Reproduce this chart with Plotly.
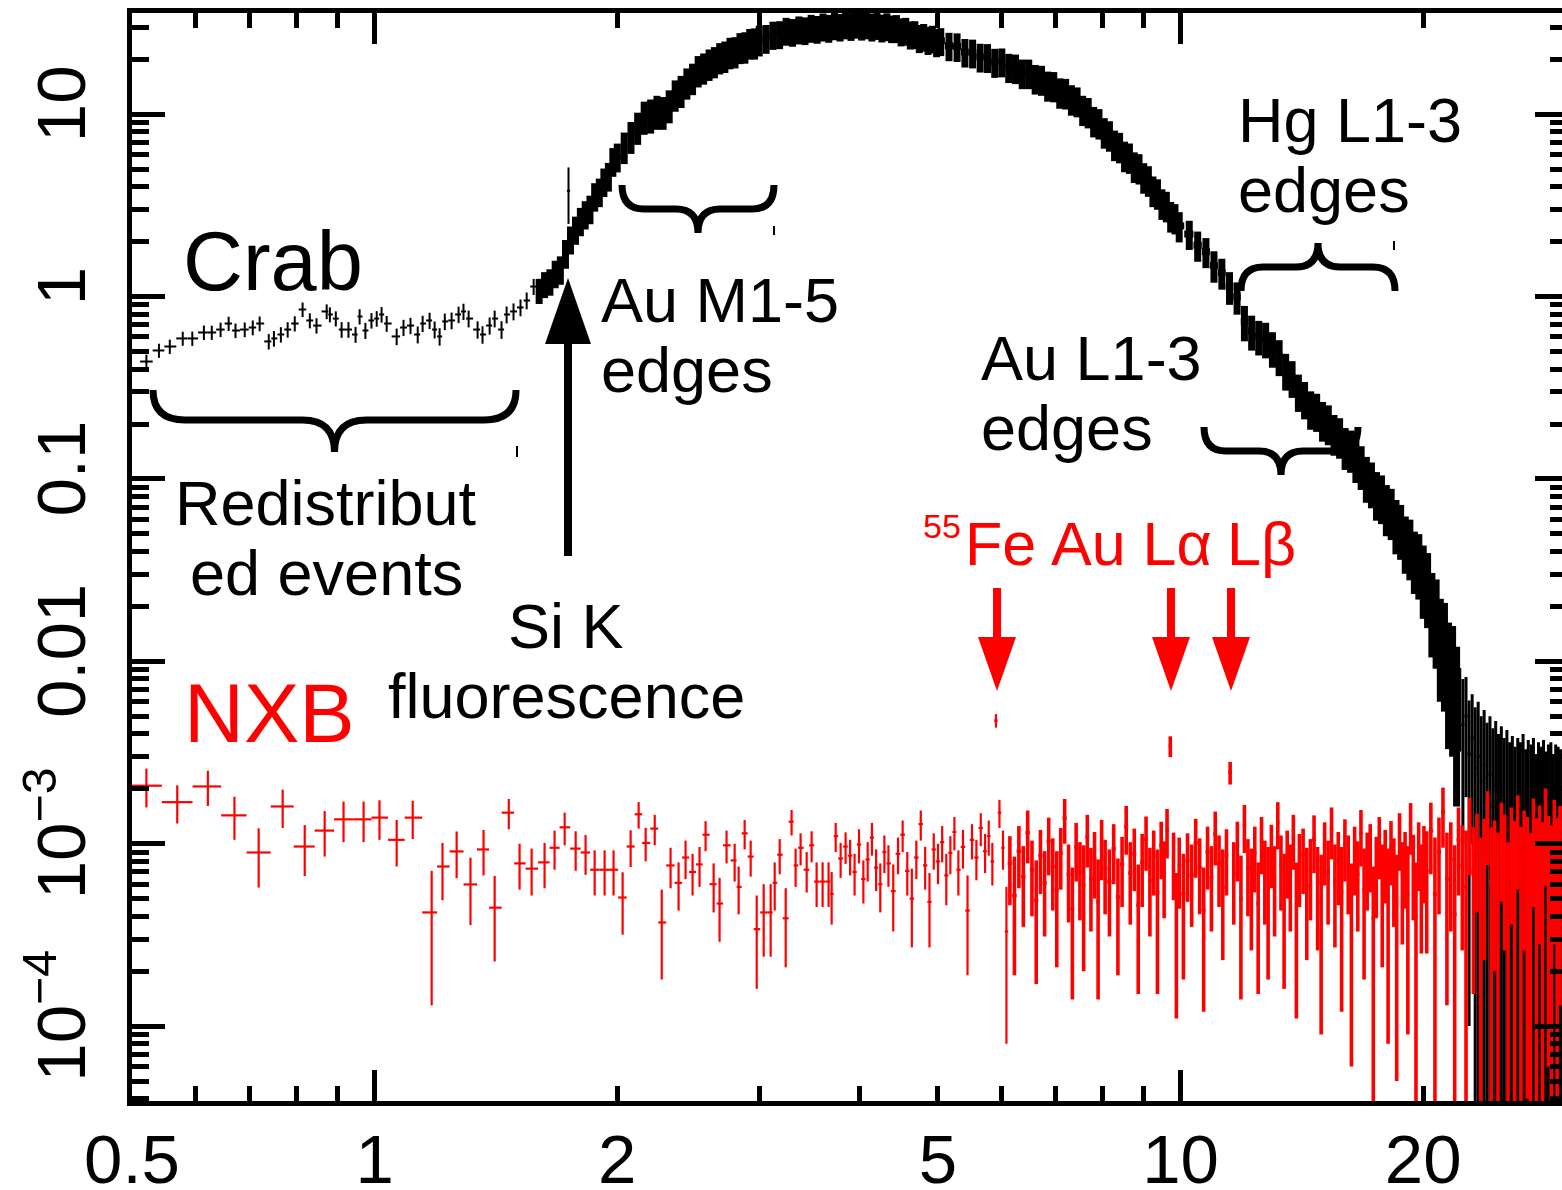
import numpy as np
import plotly.graph_objects as go

# ---------------------------------------------------------------------------
# Crab spectrum (counts s^-1 keV^-1) -- soft end, redistributed events
crab_soft_e = [0.521, 0.540, 0.557, 0.578, 0.594, 0.614, 0.628, 0.644, 0.659, 0.672,
               0.690, 0.706, 0.720, 0.739, 0.750, 0.765, 0.780, 0.796, 0.814, 0.831,
               0.847, 0.872, 0.880, 0.895, 0.910, 0.928, 0.947, 0.958, 0.974, 0.991,
               1.006, 1.020, 1.035, 1.065, 1.086, 1.108, 1.131, 1.147, 1.170, 1.187,
               1.204, 1.222, 1.246, 1.271, 1.289, 1.308, 1.342, 1.361, 1.389, 1.409,
               1.437, 1.458, 1.487, 1.517, 1.544, 1.575]
crab_soft_f = [0.440, 0.506, 0.532, 0.589, 0.589, 0.635, 0.635, 0.659, 0.711, 0.651,
               0.659, 0.676, 0.711, 0.567, 0.589, 0.619, 0.659, 0.711, 0.849, 0.739,
               0.693, 0.828, 0.797, 0.757, 0.659, 0.659, 0.619, 0.777, 0.651, 0.739,
               0.757, 0.797, 0.711, 0.604, 0.676, 0.693, 0.619, 0.711, 0.739, 0.659,
               0.604, 0.730, 0.739, 0.797, 0.828, 0.757, 0.659, 0.619, 0.693, 0.757,
               0.659, 0.797, 0.828, 0.871, 0.951, 1.134]
crab_soft_err = [0.040, 0.045, 0.048, 0.052, 0.053, 0.058, 0.057, 0.060, 0.064, 0.060,
                 0.061, 0.063, 0.066, 0.055, 0.058, 0.060, 0.064, 0.068, 0.078, 0.070,
                 0.067, 0.077, 0.075, 0.072, 0.065, 0.065, 0.062, 0.075, 0.066, 0.072,
                 0.074, 0.078, 0.071, 0.063, 0.069, 0.071, 0.066, 0.073, 0.076, 0.070,
                 0.066, 0.076, 0.078, 0.082, 0.085, 0.080, 0.072, 0.068, 0.075, 0.080,
                 0.073, 0.085, 0.088, 0.092, 0.100, 0.115]

# Crab, main band 1.6-22 keV
crab_band_e = [1.600, 1.625, 1.650, 1.675, 1.700, 1.725, 1.750, 1.775, 1.800, 1.825,
               1.850, 1.875, 1.900, 1.925, 1.950, 1.975, 2.000,
               2.04, 2.08, 2.12, 2.16, 2.20, 2.24, 2.28, 2.32, 2.36, 2.40, 2.44, 2.48,
               2.52, 2.56, 2.60, 2.64, 2.68, 2.72, 2.76, 2.80, 2.84, 2.88, 2.92, 2.96, 3.00,
               3.06, 3.12, 3.18, 3.24, 3.30, 3.36, 3.42, 3.48, 3.54, 3.60, 3.66, 3.72,
               3.78, 3.84, 3.90, 3.96, 4.02, 4.08, 4.14, 4.20, 4.26, 4.32, 4.38, 4.44,
               4.50, 4.56, 4.62, 4.68, 4.74, 4.80, 4.86, 4.92, 4.98,
               5.04, 5.16, 5.28, 5.40, 5.52, 5.64, 5.76, 5.88, 6.00, 6.12, 6.24, 6.36,
               6.48, 6.60, 6.72, 6.84, 6.96, 7.08, 7.20, 7.32, 7.44, 7.56, 7.68, 7.80,
               7.92, 8.04, 8.16, 8.28, 8.40, 8.52, 8.64, 8.76, 8.88, 9.00, 9.12, 9.24,
               9.36, 9.48, 9.60, 9.72, 9.84, 9.96,
               10.25, 10.50, 10.75, 11.00, 11.25, 11.50, 11.75, 12.00, 12.25, 12.50,
               12.75, 13.00, 13.25, 13.50, 13.75, 14.00, 14.25, 14.50, 14.75, 15.00,
               15.25, 15.50, 15.75, 16.00, 16.25, 16.50, 16.75, 17.00, 17.25, 17.50,
               17.75, 18.00, 18.25, 18.50, 18.75, 19.00, 19.25, 19.50, 19.75, 20.00,
               20.25, 20.50, 20.75, 21.00, 21.25, 21.50, 21.75, 22.00]
crab_band_f = [1.08, 1.17, 1.21, 1.34, 1.41, 1.73, 2.06, 2.33, 2.60, 2.83,
               3.03, 3.55, 3.76, 4.27, 4.58, 5.52, 5.84,
               6.62, 7.55, 8.48, 9.70, 9.92, 10.4, 10.3, 11.2, 12.8, 13.5, 14.9, 15.8,
               17.4, 18.0, 18.9, 19.5, 20.5, 20.9, 21.9, 22.1, 23.3, 23.5, 24.6, 24.7, 25.6,
               26.1, 27.3, 27.5, 28.7, 28.3, 29.2, 28.9, 29.8, 29.4, 30.3, 29.8, 30.7,
               30.2, 31.1, 30.5, 31.3, 30.6, 31.1, 30.3, 30.8, 29.9, 30.4, 29.6, 29.7,
               28.5, 28.7, 27.4, 27.5, 26.2, 26.6, 25.6, 26.0, 24.9,
               25.2, 23.7, 23.5, 21.9, 21.7, 20.6, 20.5, 19.3, 19.4, 18.1, 17.9, 16.8,
               16.8, 15.7, 15.5, 14.4, 14.3, 13.2, 13.1, 12.1, 11.8, 10.6, 10.3, 9.20,
               8.95, 7.98, 7.68, 6.82, 6.63, 5.93, 5.80, 5.18, 5.07, 4.52, 4.35, 3.82,
               3.69, 3.25, 3.15, 2.77, 2.70, 2.44,
               2.20, 1.91, 1.76, 1.48, 1.35, 1.13, 0.995, 0.728, 0.645, 0.605,
               0.588, 0.522, 0.471, 0.395, 0.360, 0.303, 0.276, 0.244, 0.237, 0.212,
               0.203, 0.179, 0.172, 0.151, 0.146, 0.129, 0.119, 0.103, 0.096, 0.084,
               0.0805, 0.0705, 0.0672, 0.0576, 0.0540, 0.0462, 0.0438, 0.0374, 0.0358, 0.0301,
               0.0272, 0.0205, 0.0186, 0.0140, 0.0131, 0.0098, 0.0093, 0.0068]
crab_band_err = [0.17, 0.19, 0.20, 0.23, 0.25, 0.31, 0.36, 0.41, 0.46, 0.50,
                 0.54, 0.63, 0.67, 0.76, 0.82, 0.99, 1.05,
                 1.3, 1.5, 1.7, 2.0, 2.1, 2.2, 2.1, 2.3, 2.5, 2.7, 2.9, 3.1,
                 3.4, 3.5, 3.7, 3.8, 4.0, 4.1, 4.3, 4.3, 4.5, 4.6, 4.7, 4.8, 4.9,
                 4.7, 4.8, 4.8, 5.0, 4.9, 5.1, 5.0, 5.2, 5.1, 5.3, 5.2, 5.3,
                 5.2, 5.4, 5.3, 5.4, 5.3, 5.4, 5.3, 5.3, 5.2, 5.3, 5.1, 5.2,
                 5.0, 5.0, 4.8, 4.8, 4.6, 4.6, 4.5, 4.5, 4.4,
                 4.4, 4.2, 4.2, 3.9, 3.9, 3.7, 3.7, 3.5, 3.5, 3.3, 3.3, 3.1,
                 3.1, 2.9, 2.9, 2.7, 2.7, 2.5, 2.5, 2.3, 2.2, 2.0, 1.95, 1.75,
                 1.70, 1.52, 1.46, 1.30, 1.26, 1.13, 1.10, 0.99, 0.96, 0.86, 0.83, 0.73,
                 0.70, 0.62, 0.60, 0.53, 0.51, 0.46,
                 0.40, 0.36, 0.33, 0.29, 0.26, 0.23, 0.20, 0.16, 0.14, 0.13,
                 0.13, 0.115, 0.105, 0.090, 0.082, 0.070, 0.064, 0.058, 0.056, 0.052,
                 0.050, 0.045, 0.043, 0.039, 0.038, 0.034, 0.032, 0.029, 0.027, 0.025,
                 0.024, 0.022, 0.021, 0.019, 0.018, 0.016, 0.016, 0.014, 0.014, 0.013,
                 0.012, 0.010, 0.0095, 0.0080, 0.0078, 0.0065, 0.0063, 0.0052]

# Crab, hard tail above 22 keV (background dominated)
crab_hard_e = [22.2, 22.4, 22.6, 22.8, 23.0, 23.2, 23.4, 23.6, 23.8, 24.0,
               24.2, 24.4, 24.6, 24.8, 25.0, 25.2, 25.4, 25.6, 25.8, 26.0,
               26.2, 26.4, 26.6, 26.8, 27.0, 27.2, 27.4, 27.6, 27.8, 28.0,
               28.2, 28.4, 28.6, 28.8, 29.0, 29.2, 29.4, 29.6]
crab_hard_f = [0.0062, 0.0045, 0.0050, 0.0031, 0.0038, 0.0026, 0.0030, 0.0022, 0.0027, 0.0018,
               0.0024, 0.0016, 0.0021, 0.0014, 0.0019, 0.0012, 0.0017, 0.0010, 0.0015, 0.0009,
               0.0014, 0.0011, 0.0016, 0.0008, 0.0013, 0.0010, 0.0015, 0.0007, 0.0012, 0.0009,
               0.0014, 0.0008, 0.0011, 0.0013, 0.0007, 0.0012, 0.0010, 0.0009]
crab_hard_err = [0.0030, 0.0035, 0.0032, 0.0030, 0.0028, 0.0030, 0.0030, 0.0028, 0.0027, 0.0028,
                 0.0026, 0.0027, 0.0026, 0.0026, 0.0025, 0.0026, 0.0025, 0.0026, 0.0024, 0.0025,
                 0.0024, 0.0025, 0.0024, 0.0025, 0.0024, 0.0025, 0.0023, 0.0024, 0.0024, 0.0025,
                 0.0023, 0.0024, 0.0024, 0.0023, 0.0024, 0.0023, 0.0024, 0.0024]

# Si K fluorescence bin
crab_sik_e = [1.74]
crab_sik_f = [3.8]
crab_sik_err = [1.3]

# ---------------------------------------------------------------------------
# Non-X-ray background, 0.5-6.1 keV (individual crosses)
nxb_soft_e = [0.521, 0.569, 0.621, 0.670, 0.718, 0.769, 0.819, 0.867, 0.915, 0.969,
              1.014, 1.065, 1.115, 1.177, 1.214, 1.264, 1.315, 1.365, 1.409, 1.467,
              1.513, 1.566, 1.625, 1.672, 1.721, 1.776, 1.827, 1.875, 1.929, 1.979,
              2.031, 2.078, 2.126, 2.169, 2.226, 2.271, 2.329, 2.383, 2.431, 2.480,
              2.530, 2.574, 2.634, 2.679, 2.733, 2.797, 2.829, 2.878, 2.928, 2.979,
              3.039, 3.100, 3.136, 3.181, 3.236, 3.291, 3.329, 3.377, 3.436, 3.485,
              3.535, 3.596, 3.658, 3.690, 3.733, 3.786, 3.840,
              3.89, 3.94, 3.99, 4.04, 4.09, 4.14, 4.19, 4.24, 4.29, 4.34,
              4.40, 4.46, 4.52, 4.58, 4.64, 4.70, 4.76, 4.82, 4.88, 4.94,
              5.00, 5.06, 5.12, 5.18, 5.24, 5.30, 5.37, 5.44, 5.51, 5.58,
              5.65, 5.72, 5.78, 5.84, 5.90, 5.96, 6.02, 6.08]
nxb_soft_f = [2.08e-3, 1.69e-3, 2.06e-3, 1.43e-3, 8.95e-4, 1.60e-3, 9.65e-4, 1.18e-3, 1.36e-3, 1.36e-3,
              1.39e-3, 1.05e-3, 1.39e-3, 4.2e-4, 7.5e-4, 9.07e-4, 5.98e-4, 9.3e-4, 4.46e-4, 1.48e-3,
              7.8e-4, 7.3e-4, 7.9e-4, 9.5e-4, 1.23e-3, 9.4e-4, 8.95e-4, 7.2e-4, 7.2e-4, 7.2e-4,
              5.07e-4, 9.65e-4, 1.45e-3, 1.01e-3, 1.21e-3, 3.7e-4, 7.6e-4, 6.1e-4, 8.4e-4, 7.0e-4,
              7.7e-4, 1.12e-3, 6.0e-4, 4.7e-4, 9.8e-4, 8.1e-4, 5.8e-4, 1.14e-3, 8.5e-4, 3.4e-4,
              4.2e-4, 4.2e-4, 6.1e-4, 8.7e-4, 3.9e-4, 1.32e-3, 7.6e-4, 9.5e-4, 7.2e-4, 9.8e-4,
              6.2e-4, 6.2e-4, 6.2e-4, 5.3e-4, 1.10e-3, 8.3e-4, 9.65e-4,
              8.6e-4, 7.0e-4, 9.9e-4, 6.4e-4, 8.2e-4, 10.8e-4, 7.4e-4, 6.0e-4, 9.0e-4, 7.8e-4,
              5.5e-4, 8.8e-4, 11.2e-4, 7.1e-4, 5.0e-4, 8.4e-4, 12.8e-4, 7.6e-4, 4.8e-4, 9.3e-4,
              8.0e-4, 10.2e-4, 6.7e-4, 8.9e-4, 11.6e-4, 7.2e-4, 9.6e-4, 4.3e-4, 10.5e-4, 8.4e-4,
              12.2e-4, 9.1e-4, 11.0e-4, 8.0e-4, 47.3e-4, 14.8e-4, 9.5e-4, 3.3e-4]
nxb_soft_err = [5.0e-4, 4.0e-4, 4.5e-4, 3.8e-4, 3.2e-4, 3.8e-4, 3.0e-4, 3.3e-4, 3.4e-4, 3.4e-4,
                3.4e-4, 3.0e-4, 3.3e-4, 2.9e-4, 2.6e-4, 2.6e-4, 2.4e-4, 2.6e-4, 2.2e-4, 2.8e-4,
                2.2e-4, 2.1e-4, 2.2e-4, 2.3e-4, 2.5e-4, 2.3e-4, 2.2e-4, 2.0e-4, 2.0e-4, 2.0e-4,
                1.9e-4, 2.2e-4, 2.4e-4, 2.1e-4, 2.3e-4, 1.9e-4, 1.9e-4, 1.8e-4, 2.0e-4, 1.8e-4,
                1.9e-4, 2.1e-4, 1.8e-4, 1.8e-4, 2.0e-4, 1.9e-4, 1.7e-4, 2.1e-4, 1.9e-4, 1.8e-4,
                1.8e-4, 1.8e-4, 1.8e-4, 1.9e-4, 1.8e-4, 2.1e-4, 1.8e-4, 1.9e-4, 1.8e-4, 1.9e-4,
                1.7e-4, 1.7e-4, 1.7e-4, 1.7e-4, 2.0e-4, 1.8e-4, 1.9e-4,
                1.9e-4, 1.8e-4, 2.1e-4, 1.7e-4, 2.0e-4, 2.2e-4, 1.9e-4, 1.8e-4, 2.1e-4, 2.0e-4,
                2.2e-4, 2.0e-4, 2.2e-4, 1.9e-4, 2.3e-4, 2.0e-4, 2.4e-4, 2.0e-4, 2.1e-4, 2.1e-4,
                2.0e-4, 2.3e-4, 2.1e-4, 2.1e-4, 2.4e-4, 2.0e-4, 2.3e-4, 2.4e-4, 2.3e-4, 2.1e-4,
                2.5e-4, 2.2e-4, 2.4e-4, 2.1e-4, 4.0e-4, 2.6e-4, 2.3e-4, 2.5e-4]

# Non-X-ray background, 6.1-30 keV (dense binning)
nxb_hard_e = [6.14, 6.22, 6.30, 6.38, 6.46, 6.54, 6.62, 6.70, 6.78, 6.86,
              6.94, 7.02, 7.10, 7.18, 7.26, 7.34, 7.42, 7.50, 7.58, 7.66,
              7.74, 7.82, 7.90, 7.98, 8.06,
              8.16, 8.26, 8.36, 8.46, 8.56, 8.66, 8.76, 8.86, 8.96, 9.06,
              9.16, 9.26, 9.36, 9.46, 9.54, 9.62, 9.71, 9.80, 9.88, 9.96,
              10.08, 10.20, 10.32, 10.44, 10.56, 10.68, 10.80, 10.92, 11.04, 11.16,
              11.28, 11.40, 11.52, 11.64, 11.76, 11.88, 12.00, 12.12, 12.24, 12.36,
              12.48, 12.60, 12.72, 12.84, 12.96, 13.08, 13.20, 13.32, 13.44, 13.56,
              13.68, 13.80, 13.92, 14.04,
              14.19, 14.34, 14.49, 14.64, 14.79, 14.94, 15.09, 15.24, 15.39, 15.54,
              15.69, 15.84, 15.99, 16.14, 16.29, 16.44, 16.59, 16.74, 16.89, 17.04,
              17.19, 17.34, 17.49, 17.64, 17.79, 17.94, 18.09, 18.24, 18.39, 18.54,
              18.69, 18.84, 18.99, 19.14, 19.29, 19.44, 19.59, 19.74, 19.89, 20.04,
              20.20, 20.44, 20.68, 20.92, 21.16, 21.40, 21.64, 21.88, 22.12, 22.36,
              22.60, 22.84, 23.08, 23.32, 23.56, 23.80, 24.04, 24.28, 24.52, 24.76,
              25.00, 25.24, 25.48, 25.72, 25.96, 26.20, 26.44, 26.68, 26.92, 27.16,
              27.40, 27.64, 27.88, 28.12, 28.36, 28.60, 28.84, 29.08, 29.32, 29.56]
nxb_hard_f = [7.8e-4, 5.2e-4, 9.1e-4, 6.6e-4, 11.5e-4, 7.2e-4, 4.9e-4, 8.6e-4, 6.1e-4, 10.3e-4,
              7.5e-4, 5.6e-4, 8.9e-4, 13.8e-4, 6.8e-4, 4.4e-4, 9.6e-4, 7.0e-4, 5.9e-4, 10.9e-4,
              6.4e-4, 8.3e-4, 4.8e-4, 9.9e-4, 7.3e-4,
              6.2e-4, 9.4e-4, 5.1e-4, 7.7e-4, 12.4e-4, 6.9e-4, 8.8e-4, 4.6e-4, 7.9e-4, 10.6e-4,
              6.3e-4, 8.5e-4, 5.4e-4, 9.8e-4, 7.1e-4, 11.9e-4, 34.3e-4, 8.2e-4, 4.0e-4, 7.6e-4,
              5.3e-4, 8.1e-4, 6.7e-4, 10.1e-4, 7.4e-4, 4.3e-4, 9.0e-4, 6.5e-4, 11.3e-4, 7.8e-4,
              5.8e-4, 8.6e-4, 24.6e-4, 6.9e-4, 9.7e-4, 5.0e-4, 12.6e-4, 7.3e-4, 6.0e-4, 8.9e-4,
              4.7e-4, 10.4e-4, 7.0e-4, 5.7e-4, 9.2e-4, 6.4e-4, 13.1e-4, 7.7e-4, 5.2e-4, 8.4e-4,
              6.6e-4, 10.8e-4, 4.5e-4, 7.9e-4,
              8.7e-4, 5.9e-4, 7.2e-4, 10.6e-4, 6.1e-4, 4.8e-4, 9.5e-4, 7.0e-4, 12.0e-4, 6.3e-4,
              8.1e-4, 5.4e-4, 9.9e-4, 7.6e-4, 4.2e-4, 8.8e-4, 6.8e-4, 11.4e-4, 5.6e-4, 7.9e-4,
              9.1e-4, 3.9e-4, 7.4e-4, 10.2e-4, 6.0e-4, 8.3e-4, 5.1e-4, 9.6e-4, 7.1e-4, 4.6e-4,
              10.9e-4, 6.5e-4, 8.0e-4, 5.3e-4, 12.7e-4, 7.5e-4, 4.0e-4, 9.3e-4, 6.2e-4, 8.6e-4,
              7.1e-4, 11.8e-4, 5.3e-4, 9.0e-4, 14.9e-4, 6.4e-4, 8.2e-4, 4.1e-4, 10.5e-4, 7.6e-4,
              5.8e-4, 12.3e-4, 6.9e-4, 9.4e-4, 4.5e-4, 8.0e-4, 13.5e-4, 6.2e-4, 7.7e-4, 5.0e-4,
              10.8e-4, 8.5e-4, 3.8e-4, 9.7e-4, 6.6e-4, 12.0e-4, 5.4e-4, 8.9e-4, 7.2e-4, 4.3e-4,
              11.1e-4, 6.8e-4, 9.5e-4, 5.7e-4, 13.0e-4, 7.4e-4, 4.9e-4, 10.1e-4, 6.3e-4, 8.7e-4]
nxb_hard_err = [3.2e-4, 3.3e-4, 3.4e-4, 3.1e-4, 3.7e-4, 3.2e-4, 3.2e-4, 3.3e-4, 3.0e-4, 3.6e-4,
                3.2e-4, 3.5e-4, 3.3e-4, 3.8e-4, 3.1e-4, 3.0e-4, 3.4e-4, 3.2e-4, 3.9e-4, 3.5e-4,
                3.1e-4, 3.3e-4, 3.4e-4, 3.6e-4, 3.2e-4,
                3.1e-4, 3.4e-4, 3.2e-4, 3.2e-4, 3.7e-4, 3.3e-4, 3.3e-4, 3.1e-4, 3.4e-4, 3.5e-4,
                3.2e-4, 3.3e-4, 3.9e-4, 3.4e-4, 3.2e-4, 3.6e-4, 4.5e-4, 3.3e-4, 2.9e-4, 3.2e-4,
                3.5e-4, 3.3e-4, 3.2e-4, 3.6e-4, 3.3e-4, 3.1e-4, 3.4e-4, 3.2e-4, 3.7e-4, 3.3e-4,
                3.5e-4, 3.4e-4, 3.5e-4, 3.3e-4, 3.5e-4, 3.6e-4, 3.7e-4, 3.3e-4, 3.4e-4, 3.5e-4,
                3.2e-4, 3.6e-4, 3.4e-4, 3.9e-4, 3.5e-4, 3.3e-4, 3.8e-4, 3.4e-4, 3.6e-4, 3.4e-4,
                3.3e-4, 3.6e-4, 3.4e-4, 3.4e-4,
                3.4e-4, 3.6e-4, 3.4e-4, 3.7e-4, 3.5e-4, 3.9e-4, 3.6e-4, 3.4e-4, 3.8e-4, 3.6e-4,
                3.5e-4, 4.2e-4, 3.7e-4, 3.5e-4, 3.6e-4, 3.6e-4, 3.5e-4, 3.9e-4, 3.8e-4, 3.6e-4,
                3.7e-4, 3.6e-4, 3.5e-4, 3.8e-4, 3.9e-4, 3.6e-4, 4.3e-4, 3.7e-4, 3.6e-4, 4.1e-4,
                3.8e-4, 3.7e-4, 3.6e-4, 4.4e-4, 4.0e-4, 3.7e-4, 3.9e-4, 3.8e-4, 3.7e-4, 3.9e-4,
                4.6e-4, 5.0e-4, 5.5e-4, 4.9e-4, 5.4e-4, 5.1e-4, 4.9e-4, 5.7e-4, 5.3e-4, 5.0e-4,
                6.0e-4, 5.6e-4, 5.4e-4, 5.2e-4, 6.3e-4, 5.7e-4, 5.9e-4, 6.1e-4, 5.7e-4, 6.5e-4,
                6.0e-4, 5.9e-4, 6.4e-4, 6.1e-4, 6.7e-4, 6.4e-4, 7.0e-4, 6.3e-4, 6.8e-4, 7.1e-4,
                6.6e-4, 7.0e-4, 6.7e-4, 7.4e-4, 7.1e-4, 6.8e-4, 7.7e-4, 7.3e-4, 7.5e-4, 7.4e-4]

# Axis ticks
x_label_vals = [0.5, 1, 2, 5, 10, 20]
x_label_text = ["0.5", "1", "2", "5", "10", "20"]
x_major_ticks = [1, 10]
x_minor_ticks = [0.6, 0.7, 0.8, 0.9, 2, 3, 4, 5, 6, 7, 8, 9, 20]
y_label_vals = [1e-4, 1e-3, 1e-2, 1e-1, 1, 10]
y_label_text = ["10<sup>\u22124</sup>", "10<sup>\u22123</sup>", "0.01", "0.1", "1", "10"]
y_minor_ticks = [d * 10.0 ** k for k in range(-5, 2) for d in range(2, 10)]

BLACK = "#000000"
RED = "#ff0000"
FONT = "Liberation Sans, Arial, Helvetica, sans-serif"

# Figure geometry (pixels)
W, H = 1562, 1190
ML, MR, MT, MB = 132, 0, 13, 89
PW, PH = W - ML - MR, H - MT - MB
X_RANGE = [np.log10(0.5), np.log10(29.73)]
Y_RANGE = [-4.4106, 1.5543]


def spectrum_trace(e, f, err, color, thick):
    e = np.asarray(e, float)
    f = np.asarray(f, float)
    err = np.asarray(err, float)
    if not (len(e) == len(f) == len(err)):
        raise ValueError("array length mismatch: %d %d %d" % (len(e), len(f), len(err)))
    le = np.log10(e)
    if len(e) > 1:
        mid = 0.5 * (le[1:] + le[:-1])
        lo_edge = np.concatenate([[2 * le[0] - mid[0]], mid])
        hi_edge = np.concatenate([mid, [2 * le[-1] - mid[-1]]])
    else:
        lo_edge, hi_edge = le - 0.002, le + 0.002
    return go.Scatter(
        x=e, y=f, mode="markers",
        marker=dict(size=1, color=color),
        error_x=dict(type="data", symmetric=False, array=10 ** hi_edge - e,
                     arrayminus=e - 10 ** lo_edge, color=color, thickness=thick, width=0),
        error_y=dict(type="data", array=err, color=color, thickness=thick, width=0),
        showlegend=False, hoverinfo="skip")


fig = go.Figure()
fig.add_trace(spectrum_trace(crab_soft_e, crab_soft_f, crab_soft_err, BLACK, 2))
fig.add_trace(spectrum_trace(crab_band_e, crab_band_f, crab_band_err, BLACK, 7))
fig.add_trace(spectrum_trace(crab_hard_e, crab_hard_f, crab_hard_err, BLACK, 3))
fig.add_trace(spectrum_trace(crab_sik_e, crab_sik_f, crab_sik_err, BLACK, 2))
fig.add_trace(spectrum_trace(nxb_soft_e, nxb_soft_f, nxb_soft_err, RED, 2.2))
fig.add_trace(spectrum_trace(nxb_hard_e, nxb_hard_f, nxb_hard_err, RED, 3.6))

# empty traces so the tick-only overlay axes get drawn
for xa, ya in [("x2", "y"), ("x3", "y"), ("x", "y2"), ("x", "y3"), ("x", "y4")]:
    fig.add_trace(go.Scatter(x=[], y=[], xaxis=xa, yaxis=ya, mode="markers",
                             showlegend=False, hoverinfo="skip"))


def paper(px, py):
    return (px - ML) / PW, (MT + PH - py) / PH


def path_from_px(cmds):
    out = []
    for c in cmds:
        letter, pts = c[0], c[1:]
        coords = []
        for (px, py) in pts:
            u, v = paper(px, py)
            coords.append("%.5f,%.5f" % (u, v))
        out.append(letter + " " + " ".join(coords))
    return " ".join(out)


def brace(x0, x1, y_end, y_flat, y_tip, r):
    xm = 0.5 * (x0 + x1)
    return path_from_px([
        ("M", (x0, y_end)),
        ("Q", (x0, y_flat), (x0 + r, y_flat)),
        ("L", (xm - r, y_flat)),
        ("Q", (xm, y_flat), (xm, y_tip)),
        ("Q", (xm, y_flat), (xm + r, y_flat)),
        ("L", (x1 - r, y_flat)),
        ("Q", (x1, y_flat), (x1, y_end)),
    ])


shapes = []
for (x0, x1, ye, yf, yt, r) in [(153, 516, 390, 420, 452, 32),
                                (622, 774, 185, 209, 233, 22),
                                (1241, 1395, 291, 267, 243, 22),
                                (1204, 1358, 427, 451, 475, 22)]:
    shapes.append(dict(type="path", xref="paper", yref="paper", path=brace(x0, x1, ye, yf, yt, r),
                       line=dict(color=BLACK, width=7), fillcolor="rgba(0,0,0,0)"))


def arrow(xc, y_tail, y_base, y_tip, half_head, half_shaft, color):
    shaft = path_from_px([("M", (xc - half_shaft, y_tail)), ("L", (xc + half_shaft, y_tail)),
                          ("L", (xc + half_shaft, y_base)), ("L", (xc - half_shaft, y_base))]) + " Z"
    head = path_from_px([("M", (xc - half_head, y_base)), ("L", (xc + half_head, y_base)),
                         ("L", (xc, y_tip))]) + " Z"
    return [dict(type="path", xref="paper", yref="paper", path=p, fillcolor=color,
                 line=dict(color=color, width=0)) for p in (shaft, head)]


shapes += arrow(568, 556, 344, 278, 23, 4, BLACK)
shapes += arrow(997, 588, 637, 691, 19, 4, RED)
shapes += arrow(1171, 588, 637, 691, 19, 4, RED)
shapes += arrow(1231, 588, 637, 691, 19, 4, RED)

for (px, py0, py1) in [(517, 446, 457), (774, 226, 235), (1394, 241, 250)]:
    u, v0 = paper(px, py0)
    _, v1 = paper(px, py1)
    shapes.append(dict(type="line", xref="paper", yref="paper", x0=u, x1=u, y0=v0, y1=v1,
                       line=dict(color=BLACK, width=2)))


def label(text, px, baseline, size, color=BLACK, anchor="left"):
    # place the text box so that its baseline sits at the given pixel row
    top = baseline - 0.905 * size - 1
    u, v = paper(px, top)
    return dict(text=text, x=u, y=v, xref="paper", yref="paper", xanchor=anchor, yanchor="top",
                showarrow=False, font=dict(family=FONT, size=size, color=color), borderpad=0)


annotations = [
    label("Crab", 182, 290, 83),
    label("NXB", 183, 742, 83, RED),
    label("Redistribut", 326, 525, 63, anchor="center"),
    label("ed events", 326, 595, 63, anchor="center"),
    label("Si K", 566, 648, 63, anchor="center"),
    label("fluorescence", 566, 718, 63, anchor="center"),
    label("Au M1-5", 600, 322, 63),
    label("edges", 600, 392, 63),
    label("Au L1-3", 980, 380, 63),
    label("edges", 980, 450, 63),
    label("Hg L1-3", 1237, 142, 63),
    label("edges", 1237, 212, 63),
    label("55", 922, 538, 34, RED),
    label("Fe", 964, 565, 61, RED),
    label("Au L\u03b1", 1050, 565, 61, RED),
    label("L\u03b2", 1226, 565, 61, RED),
]

axis_common = dict(type="log", showgrid=False, zeroline=False, automargin=False)
tick_font = dict(family=FONT, size=69, color=BLACK)

fig.update_layout(
    template="none",
    width=W, height=H,
    margin=dict(l=ML, r=MR, t=MT, b=MB, pad=0),
    paper_bgcolor="white", plot_bgcolor="white",
    showlegend=False,
    shapes=shapes, annotations=annotations,
    xaxis=dict(**axis_common, range=X_RANGE, tickmode="array", tickvals=x_label_vals,
               ticktext=x_label_text, ticks="", showline=True, linecolor=BLACK, linewidth=5,
               mirror=True, tickfont=tick_font, ticklabelstandoff=-6),
    xaxis2=dict(**axis_common, range=X_RANGE, overlaying="x", anchor="y", tickmode="array",
                tickvals=x_major_ticks, ticks="inside", ticklen=31, tickwidth=4.5, tickcolor=BLACK,
                showticklabels=False, mirror="ticks", showline=False),
    xaxis3=dict(**axis_common, range=X_RANGE, overlaying="x", anchor="y", tickmode="array",
                tickvals=x_minor_ticks, ticks="inside", ticklen=15, tickwidth=4.5, tickcolor=BLACK,
                showticklabels=False, mirror="ticks", showline=False),
    yaxis=dict(**axis_common, range=Y_RANGE, tickmode="array", tickvals=y_label_vals,
               ticktext=y_label_text, ticks="inside", ticklen=33, tickwidth=4.5, tickcolor=BLACK,
               tickangle=-90, showline=True, linecolor=BLACK, linewidth=5, mirror=True,
               tickfont=tick_font, ticklabelstandoff=14),
    yaxis2=dict(**axis_common, range=Y_RANGE, overlaying="y", anchor="x", side="left",
                tickmode="array", tickvals=y_minor_ticks, ticks="inside", ticklen=17,
                tickwidth=4.5, tickcolor=BLACK, showticklabels=False, showline=False),
    yaxis3=dict(**axis_common, range=Y_RANGE, overlaying="y", anchor="x", side="right",
                tickmode="array", tickvals=y_label_vals, ticks="inside", ticklen=27,
                tickwidth=4.5, tickcolor=BLACK, showticklabels=False, showline=False),
    yaxis4=dict(**axis_common, range=Y_RANGE, overlaying="y", anchor="x", side="right",
                tickmode="array", tickvals=y_minor_ticks, ticks="inside", ticklen=12,
                tickwidth=4.5, tickcolor=BLACK, showticklabels=False, showline=False),
)

fig.write_html("out.html")
